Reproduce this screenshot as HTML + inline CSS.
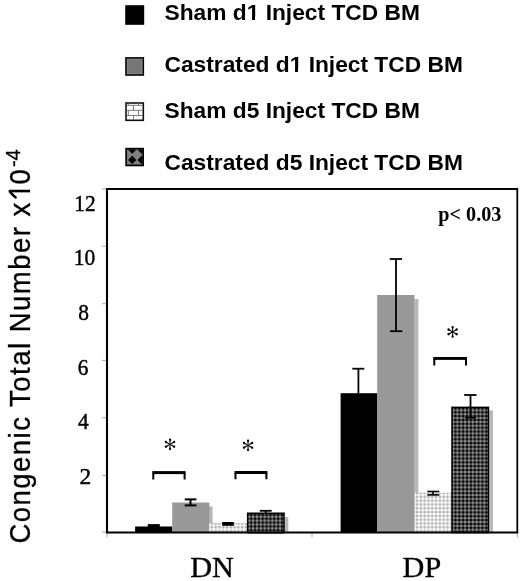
<!DOCTYPE html>
<html><head><meta charset="utf-8"><style>
html,body{margin:0;padding:0;background:#fff;width:520px;height:581px;overflow:hidden}
svg{display:block;will-change:transform}
.leg{font-family:"Liberation Sans",sans-serif;font-weight:bold;font-size:22.75px;fill:#000}
.tk{font-family:"Liberation Serif",serif;font-size:23.4px;fill:#000;stroke:#000;stroke-width:0.45}
.grp{font-family:"Liberation Serif",serif;font-size:30.2px;fill:#000;stroke:#000;stroke-width:0.35}
.yt{font-family:"Liberation Sans",sans-serif;font-size:30.45px;fill:#000;stroke:#000;stroke-width:0.3}
</style></head><body>
<svg width="520" height="581" viewBox="0 0 520 581">
<defs>
<pattern id="dark" width="3.85" height="3.85" patternUnits="userSpaceOnUse" x="250.2" y="513.9">
<rect width="3.85" height="3.85" fill="#4a4a4a"/>
<circle cx="1" cy="1" r="1.05" fill="#000"/>
<circle cx="2.92" cy="2.92" r="1.0" fill="#a0a0a0"/>
</pattern>
<pattern id="dark2" width="3.85" height="3.85" patternUnits="userSpaceOnUse" x="454.5" y="442.1">
<rect width="3.85" height="3.85" fill="#4a4a4a"/>
<circle cx="1" cy="1" r="1.05" fill="#000"/>
<circle cx="2.92" cy="2.92" r="1.0" fill="#a0a0a0"/>
</pattern>
<pattern id="light" width="3.8" height="3.8" patternUnits="userSpaceOnUse">
<rect width="3.8" height="3.8" fill="#e0e0e0"/>
<circle cx="0.95" cy="0.95" r="1.1" fill="#fff"/>
<circle cx="2.85" cy="2.85" r="1.0" fill="#a8a8a8"/>
</pattern>
<clipPath id="dclip"><rect x="127" y="149.5" width="15.5" height="15"/></clipPath>
</defs>

<!-- Legend -->
<rect x="125.2" y="5.2" width="19" height="19.6" fill="#000"/>
<text class="leg" x="164.5" y="20.3">Sham d1 Inject TCD BM</text>

<rect x="126" y="57.9" width="17.3" height="17.1" fill="#767676" stroke="#000" stroke-width="1.6"/>
<rect x="127.3" y="59.2" width="14.7" height="14.5" fill="none" stroke="#888" stroke-width="0.8"/>
<text class="leg" x="164.5" y="71.6">Castrated d1 Inject TCD BM</text>

<g>
<rect x="126" y="103" width="17.3" height="17.3" fill="#fff" stroke="#111" stroke-width="1.6"/>
<g stroke="#666" stroke-width="0.85" fill="none">
<line x1="126.5" y1="105.3" x2="142.8" y2="105.3"/>
<line x1="126.5" y1="110.3" x2="142.8" y2="110.3"/>
<line x1="126.5" y1="115.5" x2="142.8" y2="115.5"/>
<line x1="133.5" y1="105.3" x2="133.5" y2="110.3"/>
<line x1="128.3" y1="110.3" x2="128.3" y2="115.5"/>
<line x1="138.5" y1="110.3" x2="138.5" y2="115.5"/>
<line x1="133.5" y1="115.5" x2="133.5" y2="120"/>
<line x1="128.3" y1="103" x2="128.3" y2="105.3"/>
<line x1="138.5" y1="103" x2="138.5" y2="105.3"/>
</g>
</g>
<text class="leg" x="164.5" y="118.4">Sham d5 Inject TCD BM</text>

<g>
<rect x="125.3" y="147.8" width="18.7" height="18.5" fill="#000"/>
<rect x="127" y="149.5" width="15.5" height="15" fill="#808080"/>
<g clip-path="url(#dclip)"><g fill="#000" transform="translate(127,149.5)">
<polygon points="5.20,-4.30 9.50,0.00 5.20,4.30 0.90,0.00"/>
<polygon points="15.60,-5.20 20.80,0.00 15.60,5.20 10.40,0.00"/>
<polygon points="5.20,6.20 9.40,10.40 5.20,14.60 1.00,10.40"/>
<polygon points="15.60,5.30 20.70,10.40 15.60,15.50 10.50,10.40"/>
</g></g>
</g>
<text class="leg" x="164.5" y="169.7">Castrated d5 Inject TCD BM</text>

<!-- Y axis title -->
<text class="yt" transform="translate(30.3,543.58) rotate(-90) scale(1,1.098)" style="font-size:27.5px;letter-spacing:1.488px">Congenic Total Number x10</text>
<text class="yt" style="font-size:20px" transform="translate(19.7,167.1) rotate(-90)">-4</text>

<!-- remove foot serif on "1" glyphs (Arial-style 1) -->
<g fill="#fff">
<rect x="247.4" y="16.6" width="4.6" height="3.8"/>
<rect x="255" y="16.6" width="4.6" height="3.8"/>
<rect x="290.4" y="68.8" width="4.6" height="3.6"/>
<rect x="298" y="68.8" width="4.6" height="3.6"/>
<rect x="8" y="185.6" width="24" height="15"/>
</g>
<g fill="none" stroke="#000">
<line x1="8.9" y1="191.05" x2="30.1" y2="191.05" stroke-width="2.6"/>
<path d="M9.8 191.6 Q12.3 195 15.7 197.4" stroke-width="2.5" stroke-linecap="round"/>
</g>

<!-- tick labels -->
<g class="tk">
<text transform="translate(74.3,210.6) scale(0.915,1)">12</text>
<text transform="translate(73.7,265.3) scale(0.915,1)">10</text>
<text transform="translate(78.2,319.8) scale(0.915,1)">8</text>
<text transform="translate(77.8,374.8) scale(0.915,1)">6</text>
<text transform="translate(77.9,429) scale(0.915,1)">4</text>
<text transform="translate(79.6,483.7) scale(1.0,1)">2</text>
</g>
<!-- ticks -->
<g stroke="#aaa" stroke-width="1">
<line x1="102" y1="189" x2="106" y2="189"/>
<line x1="102" y1="246.2" x2="106" y2="246.2"/>
<line x1="102" y1="303.7" x2="106" y2="303.7"/>
<line x1="102" y1="360.4" x2="106" y2="360.4"/>
<line x1="102" y1="417.7" x2="106" y2="417.7"/>
<line x1="102" y1="475.4" x2="106" y2="475.4"/>
<line x1="102" y1="532" x2="106" y2="532"/>
<line x1="107" y1="533" x2="107" y2="537.5"/>
<line x1="312" y1="533" x2="312" y2="537.5"/>
<line x1="517.3" y1="533" x2="517.3" y2="537.5"/>
</g>

<!-- Bars DN -->
<rect x="135.1" y="526.5" width="37.2" height="6" fill="#000"/>
<rect x="147.8" y="524.1" width="12" height="3" fill="#000"/>

<rect x="209" y="506.5" width="3.6" height="26" fill="#b8b8b8"/>
<rect x="172.2" y="502.5" width="37.2" height="30" fill="#999"/>
<g stroke="#000" stroke-width="2" fill="none">
<line x1="184.7" y1="499.4" x2="196.4" y2="499.4"/>
<line x1="184.7" y1="505.4" x2="196.4" y2="505.4"/>
<line x1="190.5" y1="499.4" x2="190.5" y2="505.4"/>
</g>

<rect x="209.2" y="523" width="37.8" height="9.5" fill="url(#light)"/>
<rect x="222.2" y="522" width="11.6" height="3.8" fill="#000"/>

<rect x="284.8" y="517" width="3.5" height="15.5" fill="#b8b8b8"/>
<rect x="247.65" y="513.25" width="36.4" height="19.5" fill="url(#dark)" stroke="#000" stroke-width="1.5"/>
<g stroke="#000" stroke-width="1.8" fill="none">
<line x1="259.8" y1="510.8" x2="271.7" y2="510.8"/>
<line x1="265.7" y1="510.8" x2="265.7" y2="514"/>
</g>

<!-- Bars DP -->
<rect x="340.6" y="393.2" width="36.7" height="139" fill="#000"/>
<g stroke="#000" stroke-width="1.8" fill="none">
<line x1="352.3" y1="368.7" x2="364.3" y2="368.7"/>
<line x1="358.4" y1="368.7" x2="358.4" y2="393.5"/>
</g>

<rect x="414.3" y="299" width="4.1" height="233" fill="#b8b8b8"/>
<rect x="377.2" y="295" width="37.2" height="237" fill="#999"/>
<g stroke="#000" stroke-width="1.8" fill="none">
<line x1="389.8" y1="259" x2="402" y2="259"/>
<line x1="390" y1="331.2" x2="402.3" y2="331.2"/>
<line x1="396" y1="259" x2="396" y2="331.2"/>
</g>

<rect x="414.8" y="492.7" width="36.8" height="40" fill="url(#light)"/>
<g stroke="#000" stroke-width="1.6" fill="none">
<line x1="427.3" y1="491.5" x2="439.3" y2="491.5"/>
<line x1="427.3" y1="494.9" x2="439.3" y2="494.9"/>
<line x1="433.1" y1="491.5" x2="433.1" y2="494.9"/>
</g>

<rect x="489.2" y="410.5" width="3.8" height="122" fill="#b8b8b8"/>
<rect x="452" y="407.35" width="36.45" height="125.2" fill="url(#dark2)" stroke="#000" stroke-width="1.5"/>
<g stroke="#000" stroke-width="1.8" fill="none">
<line x1="464.2" y1="395" x2="476.5" y2="395"/>
<line x1="470.5" y1="395" x2="470.5" y2="417.7"/>
<line x1="465" y1="417.7" x2="476" y2="417.7"/>
</g>

<!-- Frame -->
<g stroke="#000" fill="none">
<line x1="107" y1="188" x2="107" y2="533" stroke-width="2.1"/>
<line x1="106" y1="189" x2="518" y2="189" stroke-width="1.8"/>
<line x1="517.3" y1="188" x2="517.3" y2="533" stroke-width="1.8"/>
<line x1="106" y1="532.5" x2="518.2" y2="532.5" stroke-width="1.8"/>
</g>

<!-- significance -->
<g stroke="#000" fill="none" stroke-width="2">
<path d="M153.3 479.4 V473 M184.6 479.4 V473"/>
<path d="M235.5 479.2 V473 M266.4 479.2 V473"/>
<path d="M434.3 365.6 V358.8 M466 365.6 V358.8"/>
</g>
<g fill="#000">
<rect x="152.3" y="471.1" width="33.3" height="3"/>
<rect x="234.5" y="471" width="32.9" height="3"/>
<rect x="433.3" y="357" width="33.7" height="2.9"/>
</g>
<g fill="#000"><polygon points="170.35,444.35 170.75,439.75 169.25,439.75 169.65,444.35"/><circle cx="170.00" cy="439.60" r="1.15"/><polygon points="170.18,444.05 166.39,441.40 165.64,442.70 169.82,444.65"/><circle cx="165.89" cy="441.98" r="1.15"/><polygon points="169.82,444.05 165.64,446.00 166.39,447.30 170.18,444.65"/><circle cx="165.89" cy="446.73" r="1.15"/><polygon points="169.65,444.35 169.25,448.95 170.75,448.95 170.35,444.35"/><circle cx="170.00" cy="449.10" r="1.15"/><polygon points="169.82,444.65 173.61,447.30 174.36,446.00 170.18,444.05"/><circle cx="174.11" cy="446.73" r="1.15"/><polygon points="170.18,444.65 174.36,442.70 173.61,441.40 169.82,444.05"/><circle cx="174.11" cy="441.98" r="1.15"/></g>
<g fill="#000"><polygon points="248.40,445.35 248.80,440.75 247.30,440.75 247.70,445.35"/><circle cx="248.05" cy="440.60" r="1.15"/><polygon points="248.23,445.05 244.44,442.40 243.69,443.70 247.88,445.65"/><circle cx="243.94" cy="442.98" r="1.15"/><polygon points="247.88,445.05 243.69,447.00 244.44,448.30 248.23,445.65"/><circle cx="243.94" cy="447.73" r="1.15"/><polygon points="247.70,445.35 247.30,449.95 248.80,449.95 248.40,445.35"/><circle cx="248.05" cy="450.10" r="1.15"/><polygon points="247.88,445.65 251.66,448.30 252.41,447.00 248.23,445.05"/><circle cx="252.16" cy="447.73" r="1.15"/><polygon points="248.23,445.65 252.41,443.70 251.66,442.40 247.88,445.05"/><circle cx="252.16" cy="442.98" r="1.15"/></g>
<g fill="#000"><polygon points="452.95,331.90 453.35,327.30 451.85,327.30 452.25,331.90"/><circle cx="452.60" cy="327.15" r="1.15"/><polygon points="452.78,331.60 448.99,328.95 448.24,330.25 452.43,332.20"/><circle cx="448.49" cy="329.52" r="1.15"/><polygon points="452.43,331.60 448.24,333.55 448.99,334.85 452.78,332.20"/><circle cx="448.49" cy="334.27" r="1.15"/><polygon points="452.25,331.90 451.85,336.50 453.35,336.50 452.95,331.90"/><circle cx="452.60" cy="336.65" r="1.15"/><polygon points="452.43,332.20 456.21,334.85 456.96,333.55 452.78,331.60"/><circle cx="456.71" cy="334.27" r="1.15"/><polygon points="452.78,332.20 456.96,330.25 456.21,328.95 452.43,331.60"/><circle cx="456.71" cy="329.52" r="1.15"/></g>

<text x="438.3" y="220.5" style="font-family:'Liberation Serif',serif;font-weight:bold;font-size:20.2px">p&lt; 0.03</text>

<!-- group labels -->
<text class="grp" x="190.3" y="577">DN</text>
<text class="grp" x="402.6" y="577">DP</text>
</svg>
</body></html>
